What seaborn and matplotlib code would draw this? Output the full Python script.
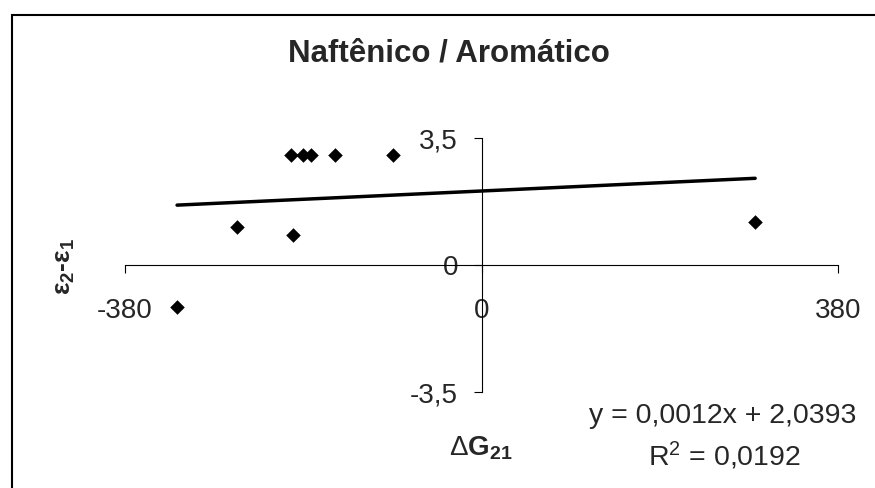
import numpy as np
import pandas as pd
import matplotlib
matplotlib.use("Agg")
import matplotlib.pyplot as plt
import seaborn as sns
from matplotlib.patches import Rectangle

# data
delta_g = [-324.5, -260.5, -202.8, -200.7, -190.4, -181.5, -155.8, -94.4, 291.7]
delta_eps = [-1.16, 1.05, 3.02, 0.82, 3.02, 3.02, 3.02, 3.02, 1.19]

# Excel trendline shown on the chart
slope = 0.0012
intercept = 2.0393
r_squared = 0.0192

x_ticks = [-380, 0, 380]
x_tick_labels = ["-380", "0", "380"]
y_ticks = [-3.5, 0, 3.5]
y_tick_labels = ["-3,5", "0", "3,5"]

sns.set_style("white")
plt.rcParams["font.family"] = ["Liberation Sans", "DejaVu Sans"]
plt.rcParams["mathtext.fontset"] = "custom"
plt.rcParams["mathtext.rm"] = "Liberation Sans"
plt.rcParams["mathtext.bf"] = "Liberation Sans:bold"
plt.rcParams["mathtext.it"] = "Liberation Sans:italic"

df = pd.DataFrame({"dG": delta_g, "de": delta_eps})

fig = plt.figure(figsize=(8.75, 4.88), dpi=100)
ax = fig.add_axes([125 / 875, 1 - 392 / 488, 713 / 875, 254 / 488])

# trendline over the data range
line_x = np.array([min(delta_g), max(delta_g)])
trend = pd.DataFrame({"x": line_x, "y": slope * line_x + intercept})
sns.lineplot(data=trend, x="x", y="y", ax=ax, color="black", linewidth=2.5)

sns.scatterplot(data=df, x="dG", y="de", ax=ax, marker="D", s=55,
                color="black", edgecolor="black", linewidth=0, zorder=3)

ax.set_xlim(-380, 380)
ax.set_ylim(-3.5, 3.5)

# axes cross at the origin like the Excel chart
ax.spines["left"].set_position(("data", 0))
ax.spines["bottom"].set_position(("data", 0))
ax.spines["top"].set_visible(False)
ax.spines["right"].set_visible(False)
for side in ["left", "bottom"]:
    ax.spines[side].set_color("black")
    ax.spines[side].set_linewidth(0.8)

ax.set_xticks(x_ticks)
ax.set_xticklabels(x_tick_labels)
ax.set_yticks(y_ticks)
ax.set_yticklabels(y_tick_labels)
ax.tick_params(axis="x", direction="out", length=6, width=0.8, pad=18,
               labelsize=20, color="black", bottom=True)
ax.tick_params(axis="y", direction="out", length=6, width=0.8, pad=11,
               labelsize=20, color="black", left=True)
ax.set_xlabel("")
ax.set_ylabel("")
ax.patch.set_alpha(0)

# title, axis labels and trendline equation
fig.text(449 / 875, 1 - 62 / 488, "Naftênico / Aromático", ha="center",
         va="baseline", fontsize=22.5, fontweight="bold")
fig.text(481 / 875, 1 - 455 / 488, r"$\Delta\mathbf{G}_{\mathbf{21}}$",
         ha="center", va="baseline", fontsize=20)
fig.text(65 / 875, 1 - 266 / 488, r"$\mathbf{ε_2}$" + "-" + r"$\mathbf{ε_1}$",
         ha="center", va="center", rotation=90, fontsize=19, fontweight="bold")
fig.text(723 / 875, 1 - 423 / 488,
         "y = " + f"{slope:.4f}".replace(".", ",") + "x + "
         + f"{intercept:.4f}".replace(".", ","),
         ha="center", va="baseline", fontsize=20.5)
fig.text(724 / 875, 1 - 466 / 488,
         r"R$^2$ = " + f"{r_squared:.4f}".replace(".", ","),
         ha="center", va="baseline", fontsize=20.5)

# chart area border (runs off the right and bottom edges)
fig.patches.append(Rectangle((12 / 875, -0.1), 1.2, 1 - 15 / 488 + 0.1,
                             transform=fig.transFigure, fill=False,
                             edgecolor="black", linewidth=1.5))

fig.savefig("out.png", dpi=100)
